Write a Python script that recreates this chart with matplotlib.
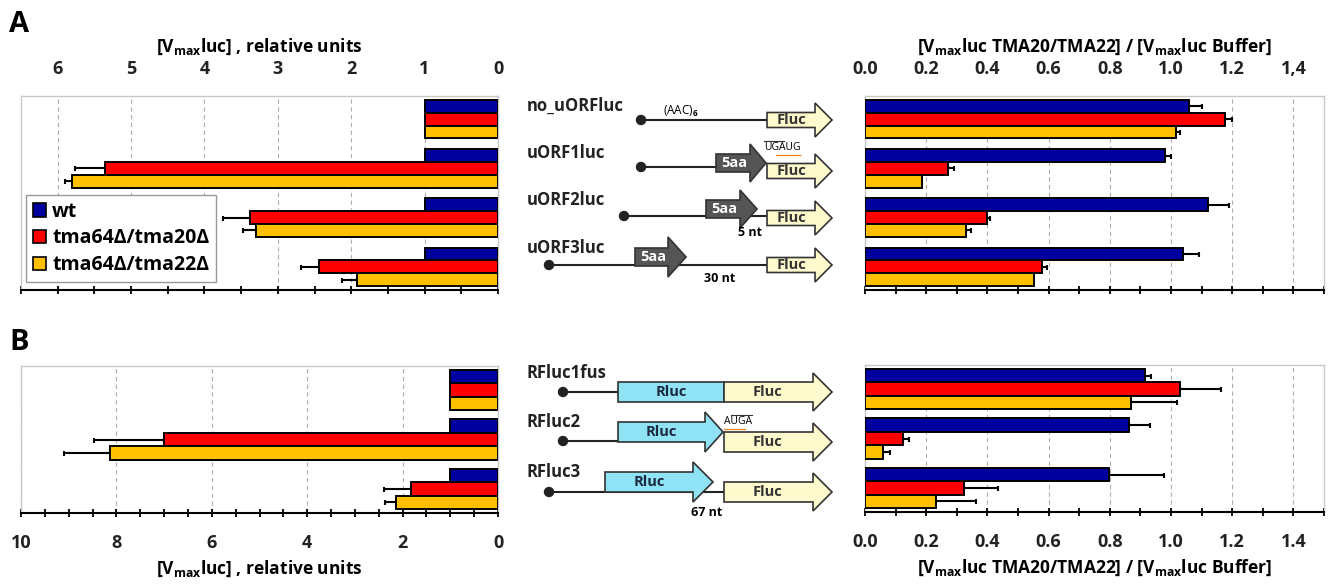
import numpy as np
import matplotlib
matplotlib.use("Agg")
import matplotlib.pyplot as plt
from matplotlib.patches import Patch, Polygon, Rectangle, Circle
from matplotlib.ticker import MultipleLocator

plt.rcParams['font.family'] = ['Open Sans', 'DejaVu Sans']
plt.rcParams['font.weight'] = 'bold'
plt.rcParams['axes.labelweight'] = 'bold'
plt.rcParams['mathtext.fontset'] = 'custom'
plt.rcParams['mathtext.rm'] = 'Open Sans:bold'
plt.rcParams['mathtext.it'] = 'Open Sans:bold'
plt.rcParams['mathtext.bf'] = 'Open Sans:bold'

strains = ['wt', 'tma64Δ/tma20Δ', 'tma64Δ/tma22Δ']
colors = ['#0000A0', '#FF0000', '#FFC000']

constructs_a = ['no_uORFluc', 'uORF1luc', 'uORF2luc', 'uORF3luc']
constructs_b = ['RFluc1fus', 'RFluc2', 'RFluc3']

# Vmax luc, relative units (rows: wt, tma20, tma22)
vmax_a = [[1, 1, 1, 1], [1, 5.36, 3.38, 2.44], [1, 5.81, 3.30, 1.92]]
vmax_a_err = [[0, 0, 0, 0], [0, 0.40, 0.37, 0.25], [0, 0.09, 0.18, 0.20]]
vmax_b = [[1, 1, 1], [1, 7.0, 1.83], [1, 8.14, 2.14]]
vmax_b_err = [[0, 0, 0], [0, 1.46, 0.57], [0, 0.96, 0.23]]

# Vmax TMA20/TMA22 over Vmax buffer
ratio_a = [[1.06, 0.98, 1.12, 1.04], [1.175, 0.27, 0.40, 0.58], [1.016, 0.186, 0.33, 0.553]]
ratio_a_err = [[0.04, 0.02, 0.07, 0.05], [0.025, 0.02, 0.01, 0.015], [0.015, 0, 0.015, 0]]
ratio_b = [[0.916, 0.863, 0.798], [1.03, 0.123, 0.322], [0.87, 0.059, 0.233]]
ratio_b_err = [[0.02, 0.07, 0.18], [0.134, 0.022, 0.112], [0.15, 0.024, 0.13]]

W, H = 1332, 585
fig = plt.figure(figsize=(W / 100, H / 100), dpi=100)


def pos(x0, y0, x1, y1):
    return [x0 / W, 1 - y1 / H, (x1 - x0) / W, (y1 - y0) / H]


def draw_bars(ax, vals, errs, h, margin):
    n = len(vals[0])
    y = np.arange(n)
    for j in range(3):
        yy = y + (j - 1) * h
        v = np.array(vals[j], dtype=float)
        e = np.array(errs[j], dtype=float)
        ax.barh(yy, v, height=h, color=colors[j], edgecolor='black', linewidth=1.4, zorder=3)
        m = e > 0
        ax.errorbar(v[m], yy[m], xerr=[np.zeros(m.sum()), e[m]], fmt='none', ecolor='black',
                    elinewidth=1.5, capsize=1.8, capthick=1.5, zorder=2)
    ax.set_ylim(n - 1 + margin, -margin)
    ax.set_yticks([])


def style(ax, lim, major, minor, labels, top):
    ax.set_xlim(*lim)
    ax.set_xticks(major)
    ax.set_xticklabels(labels)
    ax.xaxis.set_minor_locator(MultipleLocator(minor))
    ax.grid(axis='x', which='major', ls=(0, (4, 3)), color='#B0B0B0', lw=0.8, zorder=0)
    for s in ['top', 'left', 'right']:
        ax.spines[s].set_color('#C8C8C8')
        ax.spines[s].set_linewidth(1.0)
    ax.spines['bottom'].set_linewidth(1.5)
    ax.tick_params(axis='x', which='both', direction='inout', length=6, width=1.3,
                   top=False, bottom=True, labelsize=13, labelcolor='#222222')
    if top:
        ax.tick_params(axis='x', labeltop=True, labelbottom=False, pad=10)
        ax.xaxis.set_label_position('top')
    else:
        ax.tick_params(axis='x', pad=12)


vlabel = '[V$_\\mathrm{max}$luc] , relative units'
rlabel = '[V$_\\mathrm{max}$luc TMA20/TMA22] / [V$_\\mathrm{max}$luc Buffer]'
ticks_r = np.arange(0, 1.41, 0.2)

ax1 = fig.add_axes(pos(21, 96, 498, 290))
draw_bars(ax1, vmax_a, vmax_a_err, 0.26, 0.47)
style(ax1, (6.5, 0), np.arange(0, 7), 0.5, [str(i) for i in range(7)], True)
ax1.set_xlabel(vlabel, fontsize=12.5, fontweight='bold', labelpad=6)
handles = [Patch(fc=c, ec='black', lw=1.2) for c in colors]
ax1.legend(handles, strains, loc='lower left', bbox_to_anchor=(0.0105, 0.041), fontsize=14,
           fancybox=False, edgecolor='#999999', framealpha=1, handlelength=0.7,
           handleheight=0.7, handletextpad=0.3, labelspacing=0.35, borderpad=0.35,
           borderaxespad=0)

ax2 = fig.add_axes(pos(865, 96, 1324, 290))
draw_bars(ax2, ratio_a, ratio_a_err, 0.26, 0.47)
style(ax2, (0, 1.5), ticks_r, 0.1, ['0.0', '0.2', '0.4', '0.6', '0.8', '1.0', '1.2', '1,4'], True)
ax2.set_xlabel(rlabel, fontsize=12.5, fontweight='bold', labelpad=6)

ax3 = fig.add_axes(pos(21, 366, 498, 513))
draw_bars(ax3, vmax_b, vmax_b_err, 0.27, 0.485)
style(ax3, (10, 0), np.arange(0, 11, 2), 0.5, [str(i) for i in range(0, 11, 2)], False)
ax3.set_xlabel(vlabel, fontsize=12.5, fontweight='bold', labelpad=5)

ax4 = fig.add_axes(pos(865, 365, 1324, 512))
draw_bars(ax4, ratio_b, ratio_b_err, 0.27, 0.485)
style(ax4, (0, 1.5), ticks_r, 0.1, ['0.0', '0.2', '0.4', '0.6', '0.8', '1.0', '1.2', '1.4'], False)
ax4.set_xlabel(rlabel, fontsize=12.5, fontweight='bold', labelpad=5)

# construct schematics, drawn in pixel coordinates
ov = fig.add_axes([0, 0, 1, 1])
ov.set_xlim(0, W)
ov.set_ylim(H, 0)
ov.axis('off')
ov.patch.set_alpha(0)

ov.text(9, 25, 'A', fontsize=21, fontweight='bold', va='center')
ov.text(9, 342, 'B', fontsize=21, fontweight='bold', va='center')


def arrow(x0, x1, tip, yc, bh, hh, fc, ec='#333333'):
    pts = [(x0, yc - bh), (x1, yc - bh), (x1, yc - hh), (tip, yc),
           (x1, yc + hh), (x1, yc + bh), (x0, yc + bh)]
    ov.add_patch(Polygon(pts, closed=True, fc=fc, ec=ec, lw=1.2, zorder=3))


def mrna(x0, x1, y):
    ov.plot([x0, x1], [y, y], color='#222222', lw=1.5, zorder=2)
    ov.add_patch(Circle((x0, y), 4.5, color='#222222', zorder=4))


fluc_c = '#FFFACD'
rluc_c = '#8FE3F5'
aa_c = '#555555'

for name, y in zip(constructs_a + constructs_b, [106, 153, 200, 248, 373, 422, 472]):
    ov.text(527, y, name, fontsize=12, fontweight='bold', va='center', color='#222222')

# no_uORFluc
mrna(641, 767, 120)
arrow(767, 815, 832, 120, 7.5, 17, fluc_c)
ov.text(663, 111, '(AAC)$_6$', fontsize=8.5, fontweight='normal', va='center')
# uORF1luc
mrna(641, 716, 167)
arrow(716, 750, 766, 163, 9, 19, aa_c)
arrow(767, 815, 832, 171, 7.5, 17, fluc_c)
ov.text(764, 148, 'UGAUG', fontsize=7.5, fontweight='normal', va='center')
ov.plot([764, 784], [141, 141], color='#333333', lw=0.8)
ov.plot([776, 800], [155, 155], color='#E8841A', lw=0.9)
# uORF2luc
mrna(624, 767, 216)
arrow(706, 740, 757, 209, 9, 19, aa_c)
arrow(767, 815, 832, 218, 7.5, 17, fluc_c)
ov.text(750, 233, '5 nt', fontsize=9, ha='center', va='center')
# uORF3luc
mrna(549, 767, 265)
arrow(635, 668, 686, 257, 9, 20, aa_c)
arrow(767, 815, 832, 265, 7.5, 17, fluc_c)
ov.text(720, 278, '30 nt', fontsize=9, ha='center', va='center')
for xc, yc in [(734, 163), (724, 209), (653, 257)]:
    ov.text(xc, yc, '5aa', fontsize=10.5, color='white', ha='center', va='center', zorder=5)
for yc in [120, 171, 218, 265]:
    ov.text(792, yc, 'Fluc', fontsize=10.5, color='#333333', ha='center', va='center', zorder=5)

# RFluc1fus
mrna(563, 618, 392)
ov.add_patch(Rectangle((618, 382), 106, 20, fc=rluc_c, ec='#333333', lw=1.2, zorder=3))
arrow(724, 813, 832, 392, 10, 19, fluc_c)
ov.text(671, 392, 'Rluc', fontsize=10.5, color='#1a2a40', ha='center', va='center', zorder=5)
# RFluc2
mrna(563, 618, 441)
arrow(618, 705, 723, 432, 10, 20, rluc_c)
arrow(724, 813, 832, 442, 10, 19, fluc_c)
ov.text(661, 432, 'Rluc', fontsize=10.5, color='#1a2a40', ha='center', va='center', zorder=5)
ov.text(724, 422, 'AUGA', fontsize=7.5, fontweight='normal', va='center')
ov.plot([731, 752], [415, 415], color='#333333', lw=0.8)
ov.plot([724, 745], [429, 429], color='#E8841A', lw=0.9)
# RFluc3
mrna(549, 724, 492)
arrow(605, 693, 713, 482, 10, 20, rluc_c)
arrow(724, 813, 832, 492, 10, 19, fluc_c)
ov.text(649, 482, 'Rluc', fontsize=10.5, color='#1a2a40', ha='center', va='center', zorder=5)
ov.text(707, 512, '67 nt', fontsize=9, ha='center', va='center')
for yc in [392, 442, 492]:
    ov.text(768, yc, 'Fluc', fontsize=10.5, color='#333333', ha='center', va='center', zorder=5)

fig.savefig('out.png', dpi=100)
